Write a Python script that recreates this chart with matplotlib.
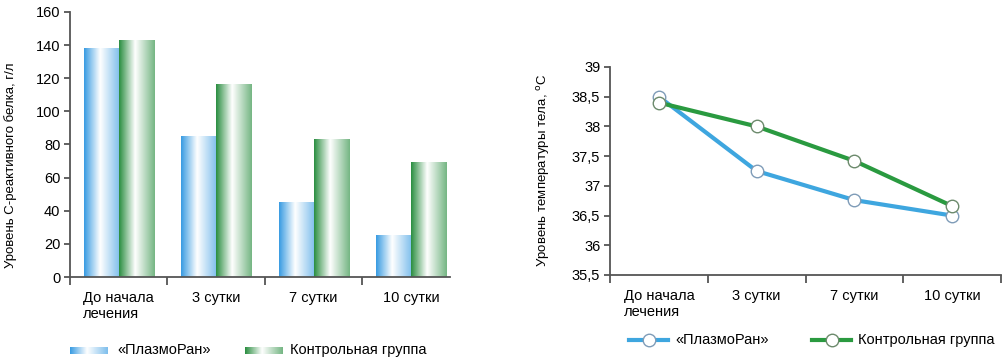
import numpy as np
import matplotlib
matplotlib.use("Agg")
import matplotlib.pyplot as plt
from matplotlib.lines import Line2D

plt.rcParams['font.family'] = ['Liberation Sans', 'DejaVu Sans']

# data
categories = ["До начала\nлечения", "3 сутки", "7 сутки", "10 сутки"]
series_names = ["«ПлазмоРан»", "Контрольная группа"]
crp_plasmoran = [138, 85, 45, 25]
crp_control = [143, 116, 83, 69]
temp_plasmoran = [38.5, 37.25, 36.76, 36.5]
temp_control = [38.4, 38.0, 37.42, 36.66]
crp_ticks = [0, 20, 40, 60, 80, 100, 120, 140, 160]
temp_ticks = [35.5, 36, 36.5, 37, 37.5, 38, 38.5, 39]

BLUE = np.array([0x3a, 0x9c, 0xe2]) / 255
GREEN = np.array([0x2c, 0x8f, 0x42]) / 255
LINE_BLUE = "#3ea6df"
LINE_GREEN = "#2a9a40"
EDGE_BLUE = "#7f9cb8"
EDGE_GREEN = "#6c8a6c"
AXIS = "#555555"
FS = 10.5
W, H = 1002, 359


def gradient(base, n=64):
    # colour intensity across the bar: strong left, white middle, lighter right
    x = np.linspace(0, 1, n)
    t = np.interp(x, [0, 0.45, 1], [1.0, 0.0, 0.65])
    img = (1 - t)[:, None] * 1.0 + t[:, None] * base[None, :]
    return img[None, :, :]


def style_axes(ax):
    for s in ("top", "right"):
        ax.spines[s].set_visible(False)
    for s in ("left", "bottom"):
        ax.spines[s].set_color(AXIS)
        ax.spines[s].set_linewidth(1.3)
    ax.tick_params(axis="y", colors=AXIS, labelcolor="black", labelsize=FS,
                   length=4, width=1.3, pad=3)
    ax.tick_params(axis="x", which="major", length=0, labelsize=FS, pad=10)
    ax.tick_params(axis="x", which="minor", colors=AXIS, length=6, width=1.3)


fig = plt.figure(figsize=(W / 100, H / 100), dpi=100)

# ---- left: bar chart
ax1 = fig.add_axes([0.0699, 0.2284, 0.3792, 0.7382])
x = np.arange(len(categories))
w = 0.36
bars_a = ax1.bar(x - w / 2, crp_plasmoran, w, facecolor="none", edgecolor="none")
bars_b = ax1.bar(x + w / 2, crp_control, w, facecolor="none", edgecolor="none")
for bars, base in ((bars_a, BLUE), (bars_b, GREEN)):
    for r in bars:
        x0, y0 = r.get_x(), r.get_y()
        ax1.imshow(gradient(base), extent=(x0, x0 + r.get_width(), y0, y0 + r.get_height()),
                   aspect="auto", interpolation="bilinear", zorder=2)
ax1.set_xlim(-0.5, 3.4)
ax1.set_ylim(0, 160)
ax1.set_yticks(crp_ticks)
ax1.set_xticks(x)
ax1.set_xticklabels(categories, multialignment="left", va="top")
ax1.set_xticks(np.arange(-0.5, 3.5, 1), minor=True)
style_axes(ax1)
ax1.set_ylabel("Уровень С-реактивного белка, г/л", fontsize=9.5)
ax1.yaxis.set_label_coords(-0.139, 0.42)

# ---- right: line chart
ax2 = fig.add_axes([0.6088, 0.234, 0.3902, 0.5794])
ax2.plot(x, temp_plasmoran, color=LINE_BLUE, lw=3, marker="o", ms=9,
         mfc="white", mec=EDGE_BLUE, mew=1.0, zorder=3)
ax2.plot(x, temp_control, color=LINE_GREEN, lw=3, marker="o", ms=9,
         mfc="white", mec=EDGE_GREEN, mew=1.0, zorder=4)
ax2.set_xlim(-0.5, 3.5)
ax2.set_ylim(35.5, 39)
ax2.set_yticks(temp_ticks)
ax2.set_yticklabels([f"{v:g}".replace(".", ",") for v in temp_ticks])
ax2.set_xticks(x)
ax2.set_xticklabels(categories, multialignment="left", va="top")
ax2.set_xticks(np.arange(-0.5, 4, 1), minor=True)
style_axes(ax2)
ax2.set_ylabel("Уровень температуры тела, $^{\\mathrm{o}}$С", fontsize=9.5)
ax2.yaxis.set_label_coords(-0.148, 0.505)

# ---- legends (placed by hand, under each chart)
for (px, tx, base, name) in ((70, 117, BLUE, series_names[0]), (245, 290, GREEN, series_names[1])):
    lax = fig.add_axes([px / W, 1 - 354 / H, 38 / W, 7 / H])
    lax.imshow(gradient(base), aspect="auto", interpolation="bilinear")
    lax.axis("off")
    fig.text(tx / W, 1 - 350 / H, name, fontsize=FS, va="center", ha="left")

for (px, tx, col, edge, name) in ((629, 675, LINE_BLUE, EDGE_BLUE, series_names[0]),
                                  (812, 858, LINE_GREEN, EDGE_GREEN, series_names[1])):
    ly = 1 - 340 / H
    fig.add_artist(Line2D([px / W, (px + 39) / W], [ly, ly], color=col, lw=3,
                          transform=fig.transFigure))
    fig.add_artist(Line2D([(px + 19.5) / W], [ly], marker="o", ms=9, mfc="white",
                          mec=edge, mew=1.0, transform=fig.transFigure))
    fig.text(tx / W, ly, name, fontsize=FS, va="center", ha="left")

fig.savefig("out.png", dpi=100)
